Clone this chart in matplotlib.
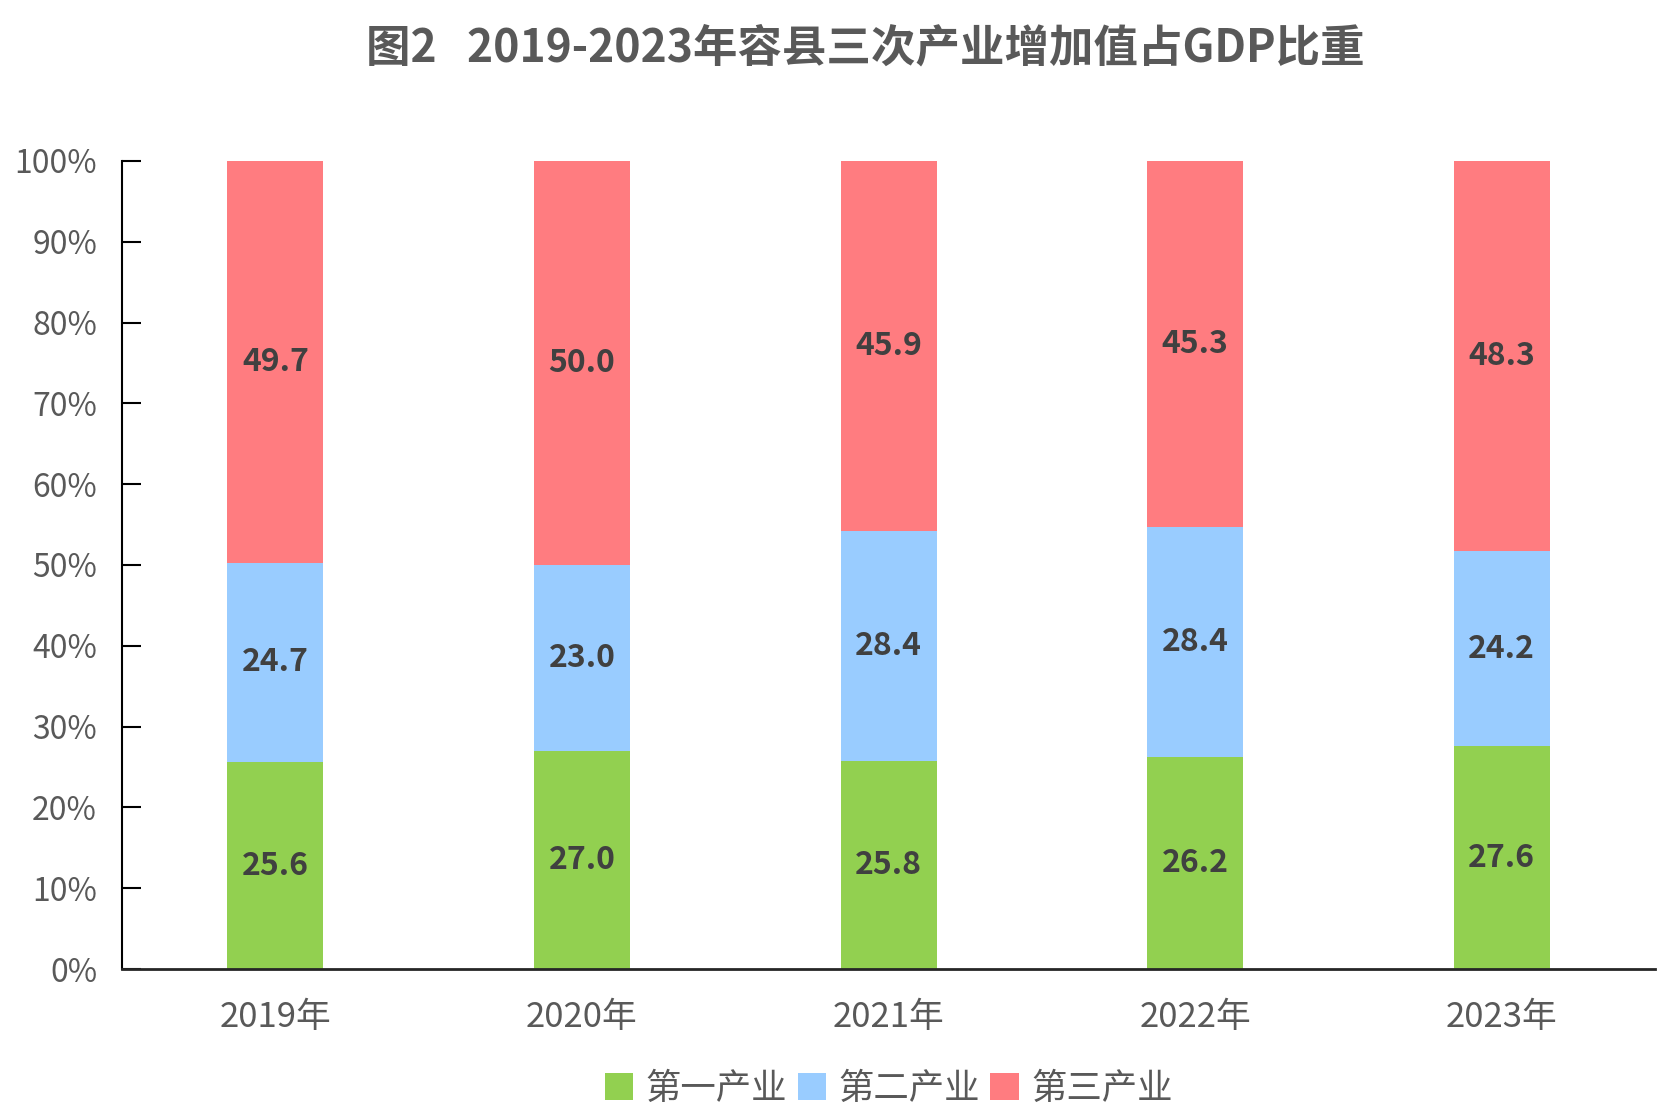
import numpy as np
import matplotlib

matplotlib.use('Agg')
from matplotlib import pyplot as plt
from matplotlib.ticker import FuncFormatter

plt.rcParams['font.family'] = ['Noto Sans CJK SC', 'DejaVu Sans']

years = ['2019年', '2020年', '2021年', '2022年', '2023年']
primary = [25.6, 27.0, 25.8, 26.2, 27.6]
secondary = [24.7, 23.0, 28.4, 28.4, 24.2]
tertiary = [49.7, 50.0, 45.9, 45.3, 48.3]
series_names = ['第一产业', '第二产业', '第三产业']
colors = ['#92D050', '#99CCFF', '#FF7C80']

# 100% stacked: normalise each year to its own total
data = np.array([primary, secondary, tertiary])
shares = data / data.sum(axis=0) * 100

fig = plt.figure(figsize=(16.61, 11.2), dpi=100)
ax = fig.add_axes([0.0735, 0.1348, 0.9229, 0.7215])

x = np.arange(len(years))
bottom = np.zeros(len(years))
for i in range(3):
    ax.bar(x, shares[i], bottom=bottom, width=0.313, color=colors[i],
           label=series_names[i], zorder=2)
    for xi, b, h, v in zip(x, bottom, shares[i], data[i]):
        ax.text(xi, b + h / 2, f'{v:.1f}', ha='center', va='center',
                fontsize=23, fontweight='bold', color='#404040', zorder=3)
    bottom += shares[i]

ax.set_xlim(-0.5, len(years) - 0.5)
ax.set_ylim(0, 100)
ax.set_yticks(np.arange(0, 101, 10))
ax.yaxis.set_major_formatter(FuncFormatter(lambda v, p: f'{v:.0f}%'))
ax.set_xticks(x)
ax.set_xticklabels(years)

for s in ['top', 'right']:
    ax.spines[s].set_visible(False)
ax.spines['left'].set_color('#000000')
ax.spines['left'].set_linewidth(1.5)
ax.spines['bottom'].set_color('#262626')
ax.spines['bottom'].set_linewidth(2)

# ticks point into the plot, labels sit well left of the axis
ax.tick_params(axis='y', direction='in', length=14, width=1.5,
               labelsize=23, labelcolor='#595959', pad=18)
ax.tick_params(axis='x', length=0, labelsize=25, labelcolor='#595959', pad=22)

fig.text(0.521, 0.957, '图2   2019-2023年容县三次产业增加值占GDP比重',
         ha='center', va='center', fontsize=32, fontweight='bold', color='#595959')

leg = fig.legend(loc='center', bbox_to_anchor=(0.535, 0.028), ncol=3, frameon=False,
                 fontsize=25.5, handlelength=0.8, handleheight=0.8,
                 handletextpad=0.35, columnspacing=0.3)
for t in leg.get_texts():
    t.set_color('#595959')

fig.savefig('out.png', dpi=100)
